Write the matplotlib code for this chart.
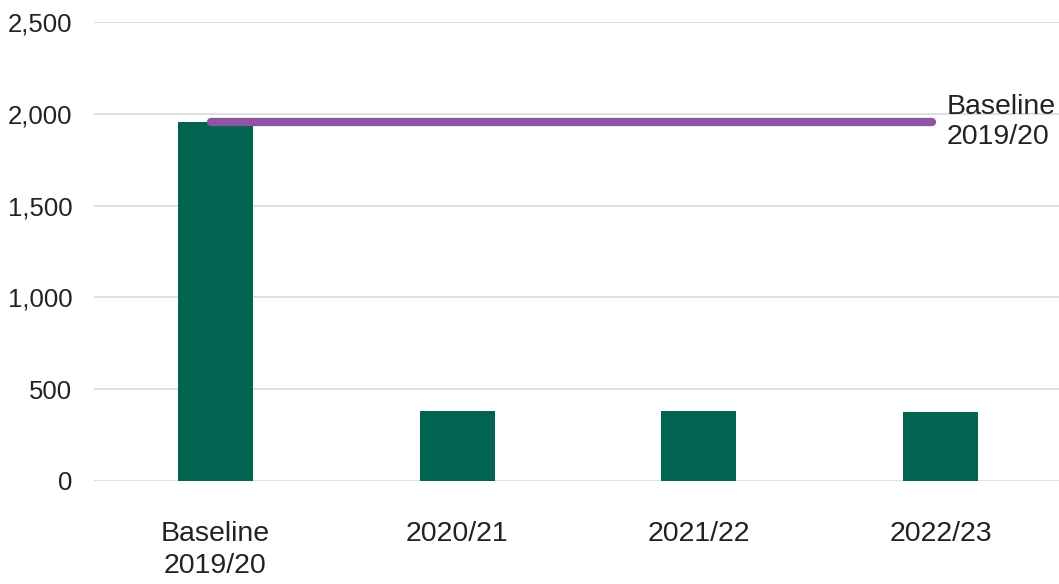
import matplotlib
matplotlib.use("Agg")
import matplotlib.pyplot as plt

plt.rcParams["font.family"] = ["Liberation Sans", "DejaVu Sans"]

categories = ["Baseline\n2019/20", "2020/21", "2021/22", "2022/23"]
values = [1955, 383, 383, 374]
baseline_value = 1955
baseline_label = "Baseline\n2019/20"
yticks = [0, 500, 1000, 1500, 2000, 2500]

bar_color = "#006450"
line_color = "#8E55A5"
text_color = "#222222"

fig = plt.figure(figsize=(10.59, 5.84), dpi=100)
ax = fig.add_axes([94.5 / 1059, 1 - 481 / 584, 967 / 1059, 459 / 584])

x = list(range(len(categories)))
ax.bar(x, values, width=0.31, color=bar_color, zorder=2)

# baseline reference line across the bars
ax.plot([-0.02, 2.965], [baseline_value, baseline_value], color=line_color,
        linewidth=6, solid_capstyle="round", zorder=3)
ax.text(3.025, baseline_value, baseline_label, fontsize=20.5, color=text_color,
        va="center", ha="left", linespacing=1.2, clip_on=False)

ax.set_xlim(-0.5, 3.5)
ax.set_ylim(0, 2500)
ax.set_yticks(yticks)
ax.set_yticklabels([f"{v:,}" for v in yticks], fontsize=18.5, color=text_color)
ax.set_xticks(x)
ax.set_xticklabels(categories, fontsize=20.5, color=text_color, va="top",
                   linespacing=1.3)

ax.grid(axis="y", color="#d9d9d9", linewidth=1.2, zorder=0)
ax.set_axisbelow(True)
for s in ax.spines.values():
    s.set_visible(False)
ax.tick_params(axis="both", length=0)
ax.tick_params(axis="x", pad=29)
ax.tick_params(axis="y", pad=16)

fig.savefig("out.png", dpi=100)
